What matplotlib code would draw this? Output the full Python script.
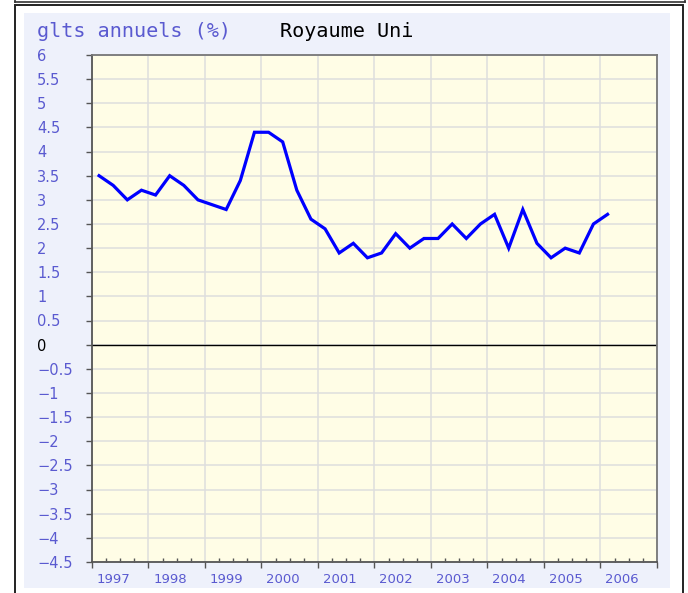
import matplotlib
matplotlib.use("Agg")
import matplotlib.pyplot as plt
from matplotlib.patches import Rectangle
from matplotlib.lines import Line2D

# glissement annuel trimestriel, Royaume Uni, 1997T1 -> 2006T1
years = list(range(1997, 2007))
quarters = [(y, q) for y in range(1997, 2007) for q in range(1, 5)][:37]
values = [3.5, 3.3, 3.0, 3.2, 3.1, 3.5, 3.3, 3.0, 2.9, 2.8,
          3.4, 4.4, 4.4, 4.2, 3.2, 2.6, 2.4, 1.9, 2.1, 1.8,
          1.9, 2.3, 2.0, 2.2, 2.2, 2.5, 2.2, 2.5, 2.7, 2.0,
          2.8, 2.1, 1.8, 2.0, 1.9, 2.5, 2.7]
yticks = [6, 5.5, 5, 4.5, 4, 3.5, 3, 2.5, 2, 1.5, 1, 0.5, 0,
          -0.5, -1, -1.5, -2, -2.5, -3, -3.5, -4, -4.5]

W, H = 688, 593
BLUE_TXT = "#5a5ad0"

fig = plt.figure(figsize=(W / 100, H / 100), dpi=100)
fig.patch.set_facecolor("white")


def px(x, y):
    # pixels (origine en haut a gauche) -> fraction de figure
    return x / W, 1 - y / H


# cadres exterieurs (derriere les axes)
fig.add_artist(Line2D([15 / W, 685 / W], [1 - 1.5 / H, 1 - 1.5 / H], color="#333333", lw=1.2, zorder=-5))
fig.add_artist(Line2D([15 / W, 15 / W], [1, 1 - 1.5 / H], color="#333333", lw=1.2, zorder=-5))
fig.add_artist(Line2D([685 / W, 685 / W], [1, 1 - 1.5 / H], color="#333333", lw=1.2, zorder=-5))
x0, y0 = px(15, 596)
fig.add_artist(Rectangle((x0, y0), (683 - 15) / W, (596 - 5) / H, transform=fig.transFigure,
                         facecolor="white", edgecolor="#222222", lw=1.4, zorder=-4))
x0, y0 = px(24, 588)
fig.add_artist(Rectangle((x0, y0), (670 - 24) / W, (588 - 13) / H, transform=fig.transFigure,
                         facecolor="#eef1fb", edgecolor="none", zorder=-3))

# titre
tx, ty = px(37, 37)
fig.text(tx, ty, "glts annuels (%)", color=BLUE_TXT, fontsize=14.5,
         family="DejaVu Sans Mono", va="baseline", ha="left")
tx, ty = px(280, 37)
fig.text(tx, ty, "Royaume Uni", color="black", fontsize=14.5,
         family="DejaVu Sans Mono", va="baseline", ha="left")

# zone de trace
l, b = px(92, 562)
ax = fig.add_axes([l, b, (657 - 92) / W, (562 - 55) / H])
ax.set_facecolor("#fffde6")

xs = [y + (q - 0.5) / 4 for (y, q) in quarters]
ax.plot(xs, values, color="#0000ff", lw=2.3, solid_joinstyle="miter", zorder=3)
ax.axhline(0, color="black", lw=1.0, zorder=2)

ax.set_xlim(1997, 2007)
ax.set_ylim(-4.5, 6)

ax.set_xticks(years + [2007])
ax.set_xticks([y + q / 4 for y in years for q in range(1, 4)], minor=True)
ax.set_xticklabels([])
ax.set_yticks(yticks)
ax.set_yticklabels([])
ax.grid(True, color="#dedede", lw=1.1, zorder=0)
ax.set_axisbelow(True)

ax.tick_params(axis="x", which="major", direction="out", length=4, width=1, color="#555555")
ax.tick_params(axis="x", which="minor", direction="in", length=3, width=1, color="#555555")
ax.tick_params(axis="y", direction="out", length=4, width=1, color="#555555")
for s in ax.spines.values():
    s.set_color("#777777")
    s.set_linewidth(1.3)
ax.spines["left"].set_color("#555555")
ax.spines["bottom"].set_color("#555555")

# etiquettes y, alignees a gauche
for v in yticks:
    lab = ("%g" % v).replace("-", "\u2212")
    ax.annotate(lab, xy=(0, v), xycoords=("axes fraction", "data"),
                xytext=(-(92 - 37) * 0.72, -1), textcoords="offset points",
                ha="left", va="center", fontsize=10.5,
                color="black" if v == 0 else BLUE_TXT, annotation_clip=False)

# etiquettes x (annees), decalees dans l'intervalle
for y in years:
    ax.annotate(str(y), xy=(y + 0.38, 0), xycoords=("data", "axes fraction"),
                xytext=(0, -8), textcoords="offset points",
                ha="center", va="top", fontsize=9.5, color=BLUE_TXT,
                annotation_clip=False)

fig.savefig("out.png", dpi=100)
